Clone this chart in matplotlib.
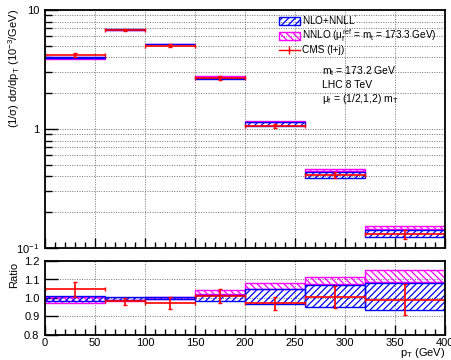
import numpy as np
import matplotlib
matplotlib.use("Agg")
import matplotlib.pyplot as plt
from matplotlib.ticker import MultipleLocator, FuncFormatter, NullFormatter, NullLocator
from matplotlib.patches import Patch
from matplotlib.lines import Line2D

plt.rcParams['font.family'] = ['Liberation Sans', 'DejaVu Sans']
plt.rcParams['mathtext.fontset'] = 'custom'
plt.rcParams['mathtext.rm'] = 'Liberation Sans'
plt.rcParams['mathtext.it'] = 'Liberation Sans'
plt.rcParams['hatch.linewidth'] = 0.9

# pT bins (GeV)
bin_edges = [0, 60, 100, 150, 200, 260, 320, 400]
# NLO+NNLL' central value (10^-3 / GeV)
nnll_central = [3.99, 6.9, 5.15, 2.65, 1.09, 0.41, 0.132]
# bands relative to NLO+NNLL' central
nnll_lo = [0.985, 0.989, 0.997, 0.985, 0.970, 0.952, 0.935]
nnll_hi = [1.012, 1.008, 1.004, 1.016, 1.048, 1.068, 1.080]
nnlo_lo = [0.972, 0.983, 0.997, 1.021, 1.050, 1.073, 1.087]
nnlo_hi = [1.004, 0.990, 1.004, 1.043, 1.079, 1.115, 1.149]
# CMS (l+j) data, relative to NLO+NNLL' central
cms_ratio = [1.047, 0.982, 0.975, 1.011, 0.971, 1.005, 0.991]
cms_err = [0.040, 0.018, 0.033, 0.040, 0.036, 0.060, 0.083]

edges = np.array(bin_edges, dtype=float)
left = edges[:-1]
width = np.diff(edges)
mid = left + width / 2
cen = np.array(nnll_central)

BLUE = '#0000ff'
MAG = '#ff00ff'
RED = '#ff0000'

fig = plt.figure(figsize=(4.52, 3.60), dpi=100)
ax = fig.add_axes([45 / 452, 1 - 248 / 360, 400 / 452, 238 / 360])
axr = fig.add_axes([45 / 452, 1 - 335 / 360, 400 / 452, 74 / 360])

grid_kw = dict(color='0.45', linestyle=(0, (1, 1.5)), linewidth=0.7)


def draw_bands(a, scale):
    lo = np.array(nnlo_lo) * scale
    hi = np.array(nnlo_hi) * scale
    a.bar(left, hi - lo, width=width, bottom=lo, align='edge', facecolor='none',
          edgecolor=MAG, hatch='\\\\\\\\\\', linewidth=1.0, zorder=3)
    lo = np.array(nnll_lo) * scale
    hi = np.array(nnll_hi) * scale
    a.bar(left, hi - lo, width=width, bottom=lo, align='edge', facecolor='none',
          edgecolor=BLUE, hatch='/////', linewidth=1.0, zorder=4)
    y = np.array(cms_ratio) * scale
    e = np.array(cms_err) * scale
    a.errorbar(mid, y, xerr=width / 2, yerr=e, fmt='none', ecolor=RED,
               elinewidth=1.2, capsize=1.5, capthick=1.0, zorder=5)


# main panel
draw_bands(ax, cen)
ax.set_yscale('log')
ax.set_ylim(0.1, 10)
ax.set_xlim(0, 400)
ax.yaxis.set_major_formatter(FuncFormatter(
    lambda v, p: {10: '10', 1: '1', 0.1: '$10^{-1}$'}.get(round(v, 3), '')))
ax.yaxis.set_minor_formatter(NullFormatter())
ax.xaxis.set_major_locator(MultipleLocator(50))
ax.xaxis.set_minor_locator(MultipleLocator(10))
ax.xaxis.set_major_formatter(NullFormatter())
ax.grid(True, which='both', axis='y', **grid_kw)
ax.grid(True, which='major', axis='x', **grid_kw)
ax.tick_params(which='both', direction='in', labelsize=8, width=1.0)
ax.tick_params(axis='y', which='major', length=9, pad=4)
ax.tick_params(axis='y', which='minor', length=5)
ax.tick_params(axis='x', which='major', length=7)
ax.tick_params(axis='x', which='minor', length=4)

handles = [Patch(facecolor='none', edgecolor=BLUE, hatch='/////', linewidth=1.0),
           Patch(facecolor='none', edgecolor=MAG, hatch='\\\\\\\\\\', linewidth=1.0),
           Line2D([0], [0], color=RED, marker='|', markersize=6, linewidth=1.0)]
labels = ["NLO+NNLL$'$",
          r"NNLO ($\mu_f^{ref}$ = m$_t$ = 173.3 GeV)",
          "CMS (l+j)"]
ax.legend(handles, labels, loc='upper left', bbox_to_anchor=(0.575, 1.005),
          frameon=False, fontsize=7.2, handlelength=2.1, handleheight=0.9,
          handletextpad=0.25, labelspacing=0.1, borderaxespad=0.2, borderpad=0.2)

ax.text(0.693, 0.744, r"m$_t$ = 173.2 GeV", transform=ax.transAxes, fontsize=7.5, va='center')
ax.text(0.693, 0.685, "LHC 8 TeV", transform=ax.transAxes, fontsize=7.5, va='center')
ax.text(0.693, 0.626, r"$\mu_f$ = (1/2,1,2) m$_T$", transform=ax.transAxes, fontsize=7.5, va='center')

fig.text(0.031, 0.975, r"(1/$\sigma$) d$\sigma$/dp$_T$ (10$^{-3}$/GeV)",
         rotation=90, ha='center', va='top', fontsize=8)

# ratio panel
draw_bands(axr, np.ones_like(cen))
axr.set_xlim(0, 400)
axr.set_ylim(0.8, 1.2)
axr.yaxis.set_major_locator(MultipleLocator(0.1))
axr.yaxis.set_minor_locator(NullLocator())
axr.yaxis.set_major_formatter(FuncFormatter(lambda v, p: f"{v:.1f}"))
axr.xaxis.set_major_locator(MultipleLocator(50))
axr.xaxis.set_minor_locator(MultipleLocator(10))
axr.grid(True, which='major', **grid_kw)
axr.tick_params(which='both', direction='in', labelsize=8, width=1.0)
axr.tick_params(axis='y', which='major', length=9, pad=4)
axr.tick_params(axis='x', which='major', length=7, pad=2.5)
axr.tick_params(axis='x', which='minor', length=4)

fig.text(0.031, 1 - 262 / 360, "Ratio", rotation=90, ha='center', va='top', fontsize=8)
fig.text(445 / 452, 1 - 359.5 / 360, "p$_T$ (GeV)", ha='right', va='bottom', fontsize=8)

for a in (ax, axr):
    for s in a.spines.values():
        s.set_linewidth(1.3)
        s.set_zorder(10)

fig.savefig("out.png", dpi=100)
